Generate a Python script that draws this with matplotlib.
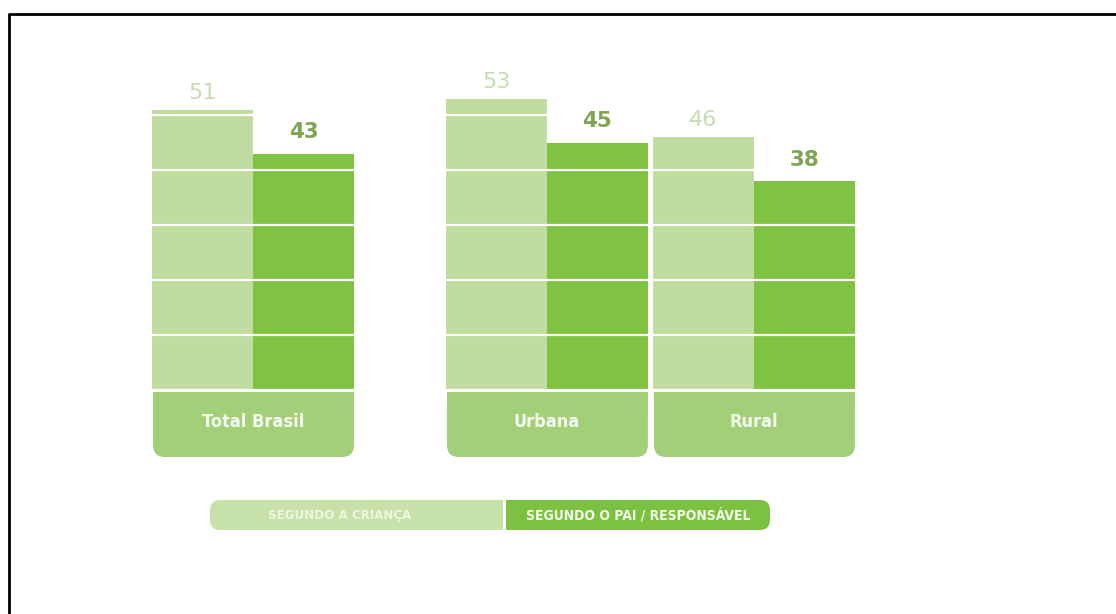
import matplotlib.pyplot as plt
from matplotlib.patches import FancyBboxPatch, Rectangle

# dados
categorias = ['Total Brasil', 'Urbana', 'Rural']
segundo_crianca = [51, 53, 46]
segundo_pai = [43, 45, 38]
series = ['SEGUNDO A CRIANÇA', 'SEGUNDO O PAI / RESPONSÁVEL']

# cores
cor_clara = '#c0dc9e'
cor_escura = '#80c242'
cor_caixa = '#a2cf77'
cor_txt_clara = '#c6dcb2'
cor_txt_escura = '#7ea552'

W, H = 1116, 614
fig = plt.figure(figsize=(W / 100, H / 100), dpi=100)
fig.patch.set_facecolor('white')

# eixo de fundo em pixels (moldura, caixas, legenda)
ax0 = fig.add_axes([0, 0, 1, 1])
ax0.set_xlim(0, W)
ax0.set_ylim(H, 0)
ax0.axis('off')

# eixo das barras
x_esq, x_dir = 152, 856
y_base, px_unid = 390, 5.5
larg_px = 101
ymax = 56
ax = fig.add_axes([x_esq / W, 1 - y_base / H, (x_dir - x_esq) / W, ymax * px_unid / H])
ax.set_xlim(0, (x_dir - x_esq) / larg_px)
ax.set_ylim(0, ymax)
ax.axis('off')

centros = [1.0, 3.91, 5.96]
xl = [c - 0.5 for c in centros]
xd = [c + 0.5 for c in centros]
b1 = ax.bar(xl, segundo_crianca, width=1.0, color=cor_clara, zorder=2)
b2 = ax.bar(xd, segundo_pai, width=1.0, color=cor_escura, zorder=2)
for y in range(0, 51, 10):
    ax.axhline(y, color='white', lw=1.6, zorder=3)

for r, v in zip(b1, segundo_crianca):
    ax.annotate(str(v), (r.get_x() + r.get_width() / 2, v), xytext=(0, 5),
                textcoords='offset points', ha='center', va='bottom',
                fontsize=16, color=cor_txt_clara)
for r, v in zip(b2, segundo_pai):
    ax.annotate(str(v), (r.get_x() + r.get_width() / 2, v), xytext=(0, 8),
                textcoords='offset points', ha='center', va='bottom',
                fontsize=15.5, color=cor_txt_escura, fontweight='semibold')

# caixas com os nomes das categorias
cx_top, cx_bot = 392, 457
for c, nome in zip(centros, categorias):
    cpx = x_esq + c * larg_px
    x0, x1 = cpx - larg_px + 1, cpx + larg_px
    ax0.add_patch(FancyBboxPatch((x0, cx_top), x1 - x0, cx_bot - cx_top,
                                 boxstyle='round,pad=0,rounding_size=12',
                                 fc=cor_caixa, ec='none'))
    ax0.add_patch(Rectangle((x0, cx_top), x1 - x0, 20, fc=cor_caixa, ec='none'))
    ax0.text(cpx, 422, nome, ha='center', va='center', color='#f6fbef',
             fontsize=13, fontweight='bold', fontstretch='condensed')

# legenda
ly0, ly1 = 500, 530
ax0.add_patch(FancyBboxPatch((210, ly0), 330, ly1 - ly0,
                             boxstyle='round,pad=0,rounding_size=10',
                             fc='#c6e1a9', ec='none'))
ax0.add_patch(Rectangle((503, ly0 - 1), 40, ly1 - ly0 + 2, fc='white', ec='none'))
ax0.add_patch(FancyBboxPatch((506, ly0), 264, ly1 - ly0,
                             boxstyle='round,pad=0,rounding_size=10',
                             fc='#7dc142', ec='none'))
ax0.add_patch(Rectangle((506, ly0), 24, ly1 - ly0, fc='#7dc142', ec='none'))
ax0.text(340, 515, series[0], ha='center', va='center', color='#eef6e2',
         fontsize=9.5, fontweight='bold', fontstretch='condensed')
ax0.text(638, 515, series[1], ha='center', va='center', color='#f4faec',
         fontsize=10, fontweight='bold', fontstretch='condensed')

# moldura (só topo e esquerda aparecem)
ax0.plot([8.5, W], [13.5, 13.5], color='black', lw=2.0, solid_capstyle='butt')
ax0.plot([8.5, 8.5], [12.5, H], color='black', lw=2.0, solid_capstyle='butt')

fig.savefig('out.png', dpi=100, facecolor='white')
